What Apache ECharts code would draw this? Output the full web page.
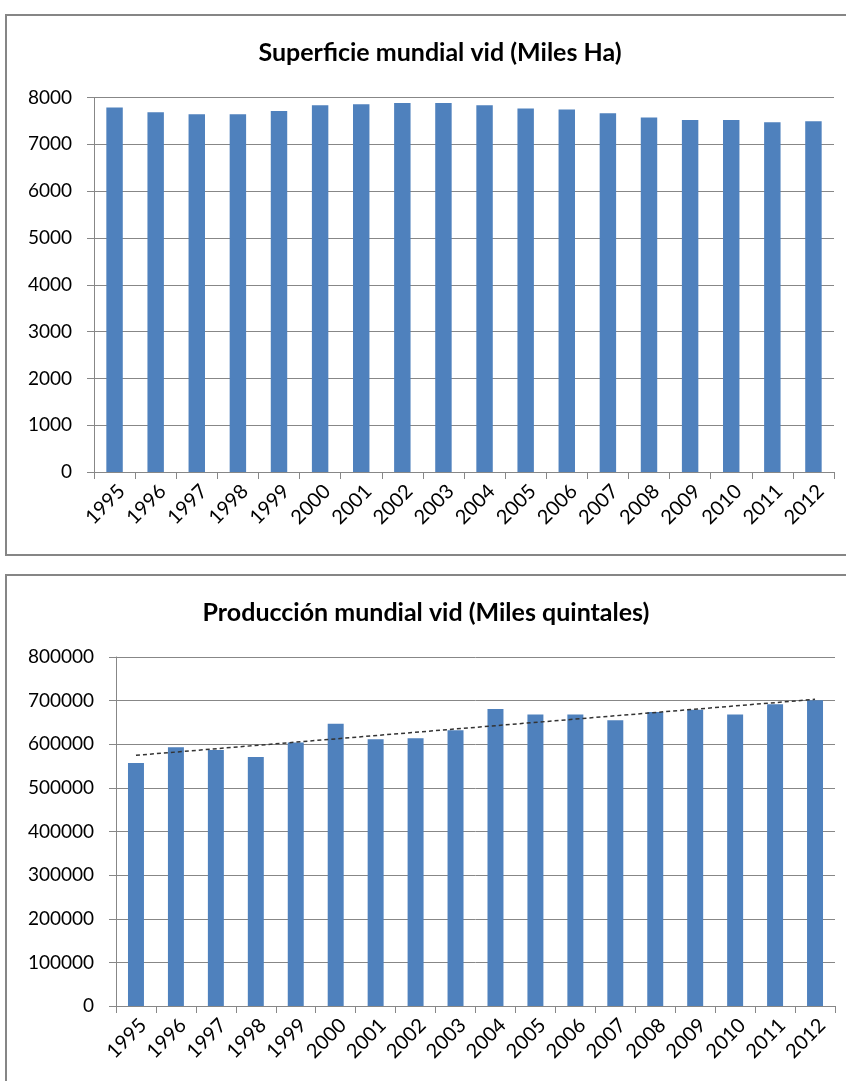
<!DOCTYPE html>
<html>
  <head>
    <meta charset="utf-8" />
    <title>Vid mundial</title>
    <script src="https://cdn.jsdelivr.net/npm/echarts@6.0.0/dist/echarts.min.js"></script>
    <style>
      html, body { margin: 0; padding: 0; background: #fff; }
    </style>
  </head>
  <body>
    <div id="chartContainer" style="width: 846px;height:1081px;"></div>
    <script>
        // años (categorías)
        var years = ['1995', '1996', '1997', '1998', '1999', '2000', '2001', '2002', '2003',
                     '2004', '2005', '2006', '2007', '2008', '2009', '2010', '2011', '2012'];
        // superficie mundial vid (miles ha)
        var superficie = [7786, 7686, 7643, 7643, 7714, 7835, 7857, 7885, 7885,
                          7835, 7765, 7744, 7665, 7573, 7521, 7521, 7472, 7494];
        // producción mundial vid (miles quintales)
        var produccion = [557000, 593000, 587000, 571000, 604000, 647000, 611500, 614000, 632000,
                          681000, 668000, 668000, 655000, 674000, 679000, 668000, 691500, 701000];
        // línea de tendencia (extremos)
        var tendencia = [['1995', 574600], ['2012', 703000]];

        var font = 'Lato';
        var gridColor = '#878787';
        var barColor = '#4f81bd';

        var myChart = echarts.init(document.getElementById('chartContainer'));

        function makeX(gridIndex) {
          return {
            type: 'category',
            gridIndex: gridIndex,
            data: years,
            axisLine: { lineStyle: { color: gridColor, width: 1 } },
            axisTick: { show: true, length: 7, lineStyle: { color: gridColor } },
            axisLabel: {
              rotate: 45,
              interval: 0,
              margin: 9,
              verticalAlign: 'top',
              color: '#000',
              fontFamily: font,
              fontSize: 20
            }
          };
        }

        function makeY(gridIndex, max, interval) {
          return {
            type: 'value',
            gridIndex: gridIndex,
            min: 0,
            max: max,
            interval: interval,
            axisLine: { show: true, lineStyle: { color: gridColor, width: 1 } },
            axisTick: { show: true, length: 7, lineStyle: { color: gridColor } },
            splitLine: { lineStyle: { color: gridColor, width: 1 } },
            axisLabel: {
              margin: 22,
              color: '#000',
              fontFamily: font,
              fontSize: 19,
              formatter: function (v) { return String(v); }
            }
          };
        }

        var option = {
          animation: false,
          backgroundColor: '#fff',
          title: [
            {
              text: 'Superficie mundial vid (Miles Ha)',
              left: 435,
              top: 35,
              textAlign: 'center',
              textStyle: { fontFamily: font, fontWeight: 'bold', fontSize: 25, color: '#000' }
            },
            {
              text: 'Producción mundial vid (Miles quintales)',
              left: 421,
              top: 595,
              textAlign: 'center',
              textStyle: { fontFamily: font, fontWeight: 'bold', fontSize: 25, color: '#000' }
            }
          ],
          graphic: [
            {
              type: 'rect',
              shape: { x: 6, y: 15, width: 900, height: 540 },
              style: { fill: 'none', stroke: '#868686', lineWidth: 2 },
              z: 100
            },
            {
              type: 'rect',
              shape: { x: 6, y: 575, width: 900, height: 560 },
              style: { fill: 'none', stroke: '#868686', lineWidth: 2 },
              z: 100
            }
          ],
          grid: [
            { left: 94, right: 12, top: 97.5, height: 374.5 },
            { left: 116, right: 11, top: 657, height: 349 }
          ],
          xAxis: [makeX(0), makeX(1)],
          yAxis: [makeY(0, 8000, 1000), makeY(1, 800000, 100000)],
          series: [
            {
              name: 'Superficie',
              type: 'bar',
              xAxisIndex: 0,
              yAxisIndex: 0,
              data: superficie,
              barWidth: '40%',
              itemStyle: { color: barColor }
            },
            {
              name: 'Producción',
              type: 'bar',
              xAxisIndex: 1,
              yAxisIndex: 1,
              data: produccion,
              barWidth: '40%',
              itemStyle: { color: barColor }
            },
            {
              name: 'Tendencia',
              type: 'line',
              xAxisIndex: 1,
              yAxisIndex: 1,
              data: tendencia,
              symbol: 'none',
              z: 5,
              lineStyle: { color: '#333', width: 1.5, type: [4, 3] }
            }
          ]
        };

        myChart.setOption(option);
    </script>
  </body>
</html>
